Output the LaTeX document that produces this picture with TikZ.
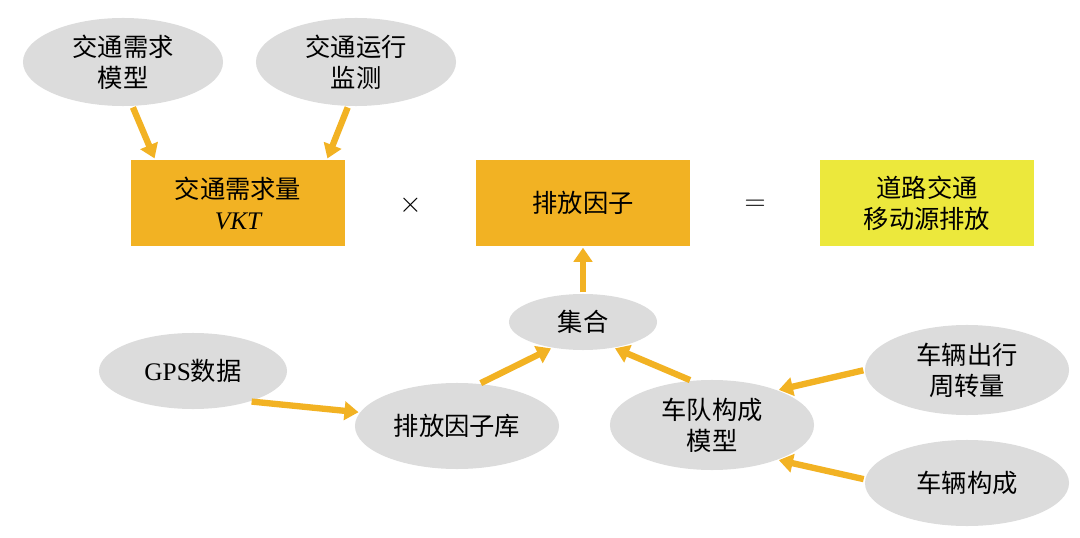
\documentclass[tikz,border=0pt]{standalone}
\usepackage{fontspec}
\setmainfont{Liberation Serif}
\newfontfamily\cjk{Noto Sans CJK SC}
\usetikzlibrary{shapes.geometric,arrows.meta,calc}
\definecolor{boxorange}{HTML}{F2B223}
\definecolor{boxyellow}{HTML}{ECE83C}
\definecolor{ellgray}{HTML}{DCDCDC}
\definecolor{arrorange}{HTML}{F2B223}
\tikzset{
  ell/.style={ellipse, fill=ellgray, inner sep=0pt, minimum width=5cm, minimum height=2.2cm, align=center, font=\cjk\fontsize{18}{22}\selectfont},
  box/.style={rectangle, fill=boxorange, minimum width=5.33cm, minimum height=2.15cm, align=center, font=\cjk\fontsize{18}{22}\selectfont},
  arr/.style={draw=arrorange, line width=4.5pt, -{Triangle[length=10pt,width=13pt]}, shorten <=1pt, shorten >=1pt}
}
\begin{document}
\begin{tikzpicture}[x=0.025cm,y=-0.025cm]
\useasboundingbox (0,0) rectangle (1080,538);

% top ellipses
\node[ell] (dem) at (123,62) {交通需求\\模型};
\node[ell] (mon) at (356,62) {交通运行\\监测};
% product row
\node[box] (vkt) at (238,203) {交通需求量\\{\rmfamily\itshape VKT}};
\node[font=\fontsize{22}{22}\selectfont] (times) at (411,205) {$\times$};
\node[box] (ef) at (583,203) {排放因子};
\node[font=\fontsize{22}{22}\selectfont] (eq) at (755,205) {$=$};
\node[box, fill=boxyellow] (emis) at (927,203) {道路交通\\移动源排放};
% bottom ellipses
\node[ell, minimum width=3.7cm, minimum height=1.4cm] (agg) at (583,322) {集合};
\node[ell, minimum width=4.7cm, minimum height=1.9cm] (gps) at (193,371) {{\rmfamily GPS}数据};
\node[ell, minimum width=5.1cm, minimum height=2.15cm] (lib) at (457,426) {排放因子库};
\node[ell, minimum width=5.1cm, minimum height=2.25cm] (fleet) at (712,425) {车队构成\\模型};
\node[ell, minimum width=5.1cm, minimum height=2.25cm] (vmt) at (967,370) {车辆出行\\周转量};
\node[ell, minimum width=5.1cm, minimum height=2.15cm] (comp) at (967,483) {车辆构成};

% arrows
\draw[arr] (dem.-78) -- ($(vkt.north west)+(24,0)$);
\draw[arr] (mon.-100) -- ($(vkt.north east)+(-18,0)$);
\draw[arr] (agg.north) -- (ef.south);
\draw[arr] (lib.62) -- (agg.-140);
\draw[arr] (gps.-28) -- (lib.172);
\draw[arr] (fleet.115) -- (agg.-40);
\draw[arr] (vmt.west) -- (fleet.28);
\draw[arr] (comp.178) -- (fleet.-28);

\end{tikzpicture}
\end{document}
